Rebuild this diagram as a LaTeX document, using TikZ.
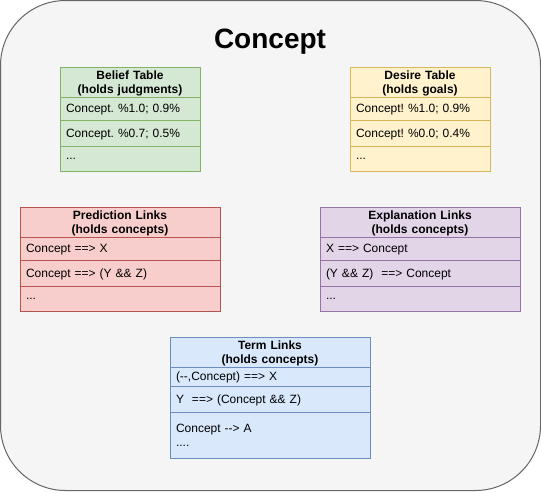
\documentclass[tikz,border=0pt]{standalone}
\usepackage{fontspec}
\setmainfont{Liberation Sans}
\usetikzlibrary{positioning}
\definecolor{outerfill}{HTML}{F5F5F5}
\definecolor{outerline}{HTML}{666666}
\definecolor{greenfill}{HTML}{D5E8D4}
\definecolor{greenline}{HTML}{82B366}
\definecolor{yellowfill}{HTML}{FFF2CC}
\definecolor{yellowline}{HTML}{D6B656}
\definecolor{redfill}{HTML}{F8CECC}
\definecolor{redline}{HTML}{B85450}
\definecolor{purplefill}{HTML}{E1D5E7}
\definecolor{purpleline}{HTML}{9673A6}
\definecolor{bluefill}{HTML}{DAE8FC}
\definecolor{blueline}{HTML}{6C8EBF}
\frenchspacing

\begin{document}
\begin{tikzpicture}[x=1pt, y=-1pt, node distance=0mm, line width=1pt,
  cell/.style={draw, outer sep=0pt, inner xsep=6pt, inner ysep=0pt, align=left, text depth=0pt,
    font=\fontsize{12}{14}\selectfont, minimum height=#1},
  twoline/.style={text height=9pt, text depth=14pt},
  head/.style={cell=30pt, twoline, align=center, font=\fontsize{12}{14}\selectfont\bfseries},
  belieftab/.style={draw=greenline, fill=greenfill, text width=128pt},
  desiretab/.style={draw=yellowline, fill=yellowfill, text width=128pt},
  predtab/.style={draw=redline, fill=redfill, text width=188pt},
  expltab/.style={draw=purpleline, fill=purplefill, text width=188pt},
  termtab/.style={draw=blueline, fill=bluefill, text width=188pt},
]
  \useasboundingbox (0,0) rectangle (541,491);
  \node[draw=outerline, fill=outerfill, rounded corners=65pt, outer sep=0pt,
        minimum width=540pt, minimum height=490pt] (concept) at (270.5,245.5) {};
  \node[font=\fontsize{28}{34}\selectfont\bfseries] (title) at (270,42) {Concept};

  % Belief table
  \node[head, belieftab, anchor=north] (belief) at (130,67) {Belief Table\\(holds judgments)};
  \node[cell=23pt, belieftab, below=0mm of belief]  (belief1) {Concept. \%1.0; 0.9\%};
  \node[cell=26pt, belieftab, below=0mm of belief1] (belief2) {Concept. \%0.7; 0.5\%};
  \node[cell=25pt, belieftab, below=0mm of belief2] (belief3) {...};

  % Desire table
  \node[head, desiretab, anchor=north] (desire) at (420,67) {Desire Table\\(holds goals)};
  \node[cell=23pt, desiretab, below=0mm of desire]  (desire1) {Concept! \%1.0; 0.9\%};
  \node[cell=26pt, desiretab, below=0mm of desire1] (desire2) {Concept! \%0.0; 0.4\%};
  \node[cell=25pt, desiretab, below=0mm of desire2] (desire3) {...};

  % Prediction links
  \node[head, predtab, anchor=north] (pred) at (120,207) {Prediction Links\\(holds concepts)};
  \node[cell=23pt, predtab, below=0mm of pred]  (pred1) {Concept ==> X};
  \node[cell=26pt, predtab, below=0mm of pred1] (pred2) {Concept ==> (Y \&\& Z)};
  \node[cell=25pt, predtab, below=0mm of pred2] (pred3) {...};

  % Explanation links
  \node[head, expltab, anchor=north] (expl) at (420,207) {Explanation Links\\(holds concepts)};
  \node[cell=23pt, expltab, below=0mm of expl]  (expl1) {X ==> Concept};
  \node[cell=26pt, expltab, below=0mm of expl1] (expl2) {(Y \&\& Z)\ \ ==> Concept};
  \node[cell=25pt, expltab, below=0mm of expl2] (expl3) {...};

  % Term links
  \node[head, termtab, anchor=north] (term) at (270,337) {Term Links\\(holds concepts)};
  \node[cell=19pt, termtab, below=0mm of term]  (term1) {(-{}-,Concept) ==> X};
  \node[cell=26pt, termtab, below=0mm of term1] (term2) {Y\ \ ==> (Concept \&\& Z)};
  \node[cell=46pt, termtab, twoline, below=0mm of term2] (term3) {Concept -{}-> A\\....};
\end{tikzpicture}
\end{document}
